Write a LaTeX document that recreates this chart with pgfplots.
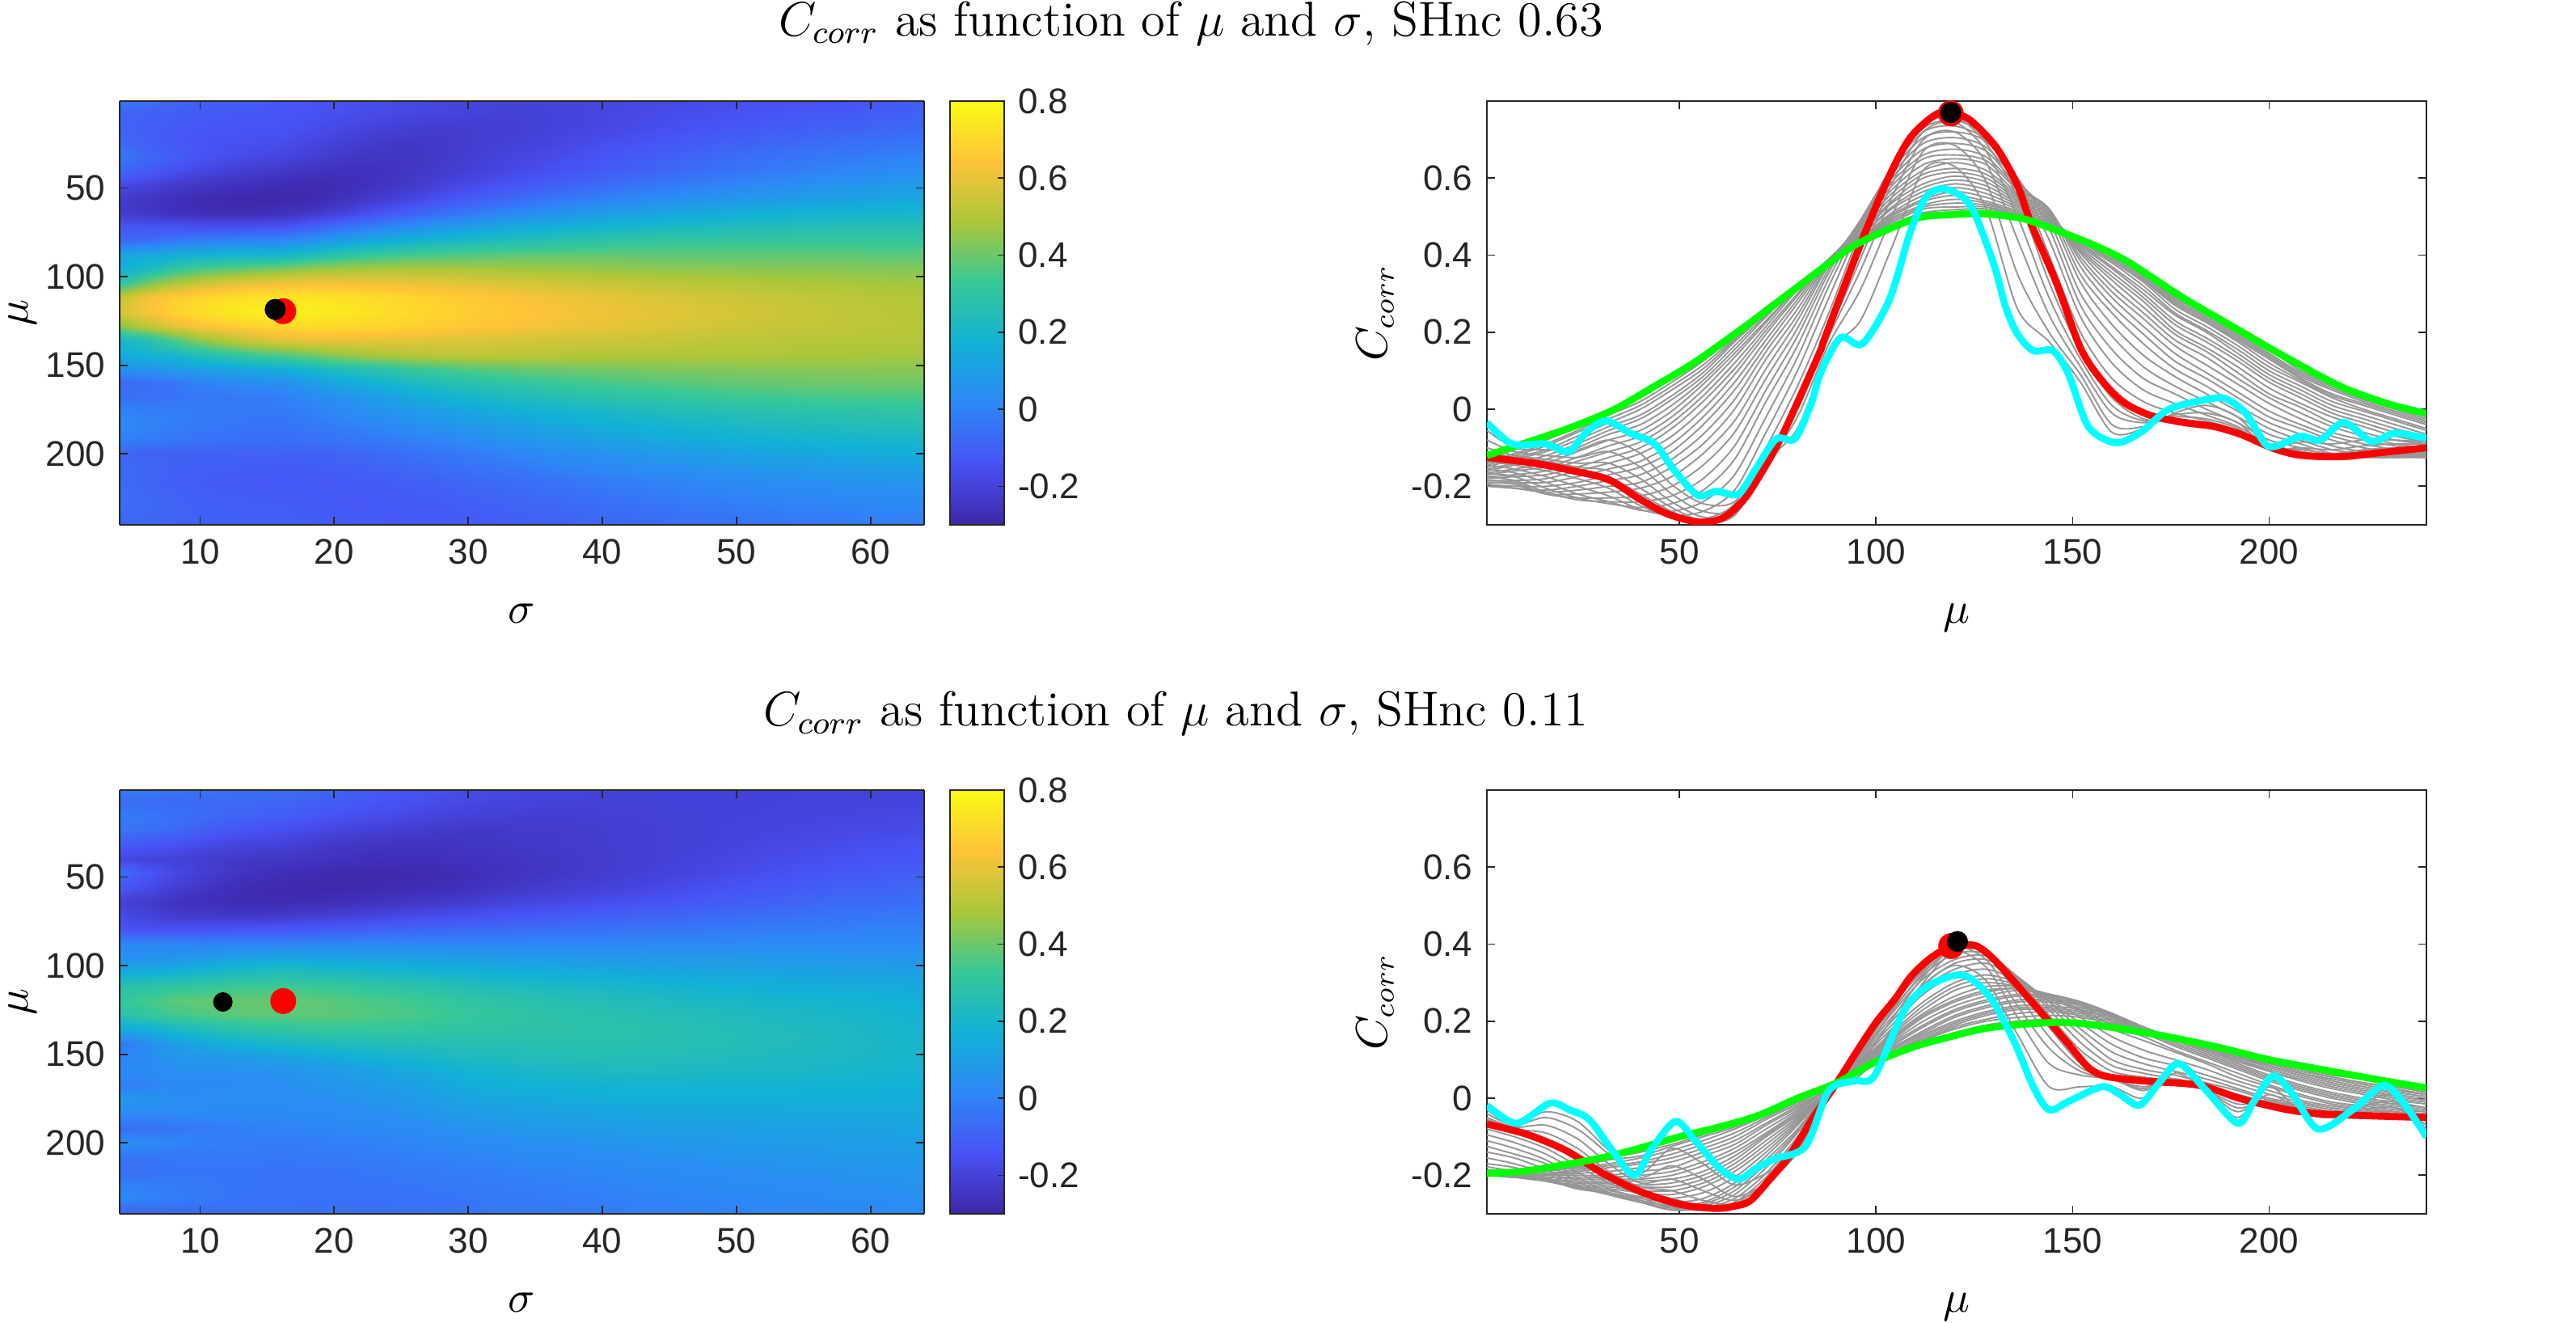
\documentclass[border=0pt]{standalone}
\usepackage{fontspec}
\usepackage{pgfplots}
\usepackage{pgfplotstable}
\pgfplotsset{compat=1.18}
\newfontfamily\arialish{Liberation Sans}

% C_corr, rows mu, columns sigma (header = sigma)
\pgfplotstableread{
mu 4 6 8 10 12 14 16 18 20 22 24 26 28 30 32 34 36 38 40 42 44 46 48 50 52 54 56 58 60 62 64
1 -.034 -.055 -.08 -.10 -.11 -.12 -.125 -.135 -.145 -.155 -.165 -.175 -.185 -.19 -.195 -.20 -.195 -.19 -.185 -.18 -.175 -.17 -.165 -.16 -.155 -.15 -.145 -.14 -.135 -.128 -.12
8 -.09 -.10 -.11 -.12 -.125 -.13 -.135 -.145 -.155 -.165 -.175 -.185 -.19 -.195 -.205 -.205 -.20 -.19 -.185 -.175 -.17 -.16 -.155 -.145 -.14 -.13 -.125 -.12 -.115 -.105 -.10
16 -.09 -.105 -.12 -.13 -.135 -.14 -.145 -.16 -.175 -.19 -.205 -.215 -.22 -.22 -.215 -.21 -.20 -.19 -.18 -.17 -.16 -.15 -.14 -.13 -.12 -.11 -.105 -.095 -.09 -.08 -.075
24 -.08 -.105 -.125 -.14 -.15 -.155 -.16 -.18 -.20 -.22 -.23 -.235 -.23 -.22 -.21 -.20 -.19 -.175 -.16 -.15 -.135 -.125 -.11 -.10 -.09 -.08 -.07 -.06 -.055 -.045 -.04
32 -.03 -.08 -.11 -.14 -.16 -.175 -.185 -.205 -.225 -.24 -.245 -.24 -.23 -.215 -.20 -.185 -.17 -.155 -.14 -.125 -.11 -.095 -.08 -.065 -.055 -.045 -.035 -.025 -.015 -.005 0
40 -.075 -.115 -.15 -.18 -.205 -.22 -.234 -.25 -.26 -.262 -.255 -.24 -.225 -.205 -.19 -.17 -.15 -.135 -.115 -.10 -.085 -.07 -.055 -.04 -.025 -.015 0 .01 .02 .03 .04
48 -.165 -.195 -.22 -.24 -.255 -.265 -.275 -.28 -.275 -.265 -.245 -.225 -.20 -.175 -.15 -.13 -.11 -.09 -.07 -.05 -.035 -.02 -.005 .01 .025 .035 .05 .06 .07 .08 .09
56 -.225 -.245 -.265 -.28 -.29 -.295 -.293 -.285 -.265 -.24 -.21 -.18 -.145 -.115 -.09 -.065 -.04 -.02 0 .02 .035 .05 .065 .075 .085 .095 .105 .115 .125 .13 .14
64 -.22 -.24 -.26 -.27 -.275 -.275 -.262 -.245 -.21 -.17 -.13 -.095 -.06 -.03 0 .025 .05 .07 .09 .105 .12 .135 .145 .155 .165 .175 .18 .185 .19 .195 .195
72 -.13 -.135 -.14 -.145 -.145 -.145 -.14 -.10 -.06 -.02 .02 .05 .08 .105 .13 .15 .165 .18 .195 .205 .215 .225 .23 .24 .245 .25 .255 .26 .26 .265 .265
80 -.07 -.05 -.02 0 .01 .02 .025 .06 .10 .135 .165 .19 .21 .23 .245 .26 .275 .285 .295 .30 .31 .315 .315 .32 .32 .32 .32 .32 .32 .32 .32
88 .13 .15 .17 .19 .20 .205 .21 .25 .29 .32 .34 .355 .365 .375 .38 .385 .385 .39 .39 .39 .39 .39 .385 .385 .385 .385 .385 .385 .38 .38 .38
96 .175 .23 .31 .36 .39 .41 .43 .46 .475 .485 .49 .49 .49 .485 .48 .475 .47 .465 .46 .455 .45 .45 .445 .445 .44 .44 .44 .44 .435 .435 .435
104 .31 .42 .50 .55 .585 .61 .62 .63 .63 .625 .62 .61 .60 .59 .58 .57 .56 .55 .54 .535 .525 .52 .51 .505 .50 .495 .49 .485 .48 .475 .47
112 .53 .62 .67 .70 .72 .735 .74 .74 .73 .72 .705 .69 .675 .66 .65 .635 .62 .61 .60 .585 .575 .565 .555 .545 .54 .53 .525 .52 .51 .505 .50
120 .56 .63 .685 .72 .745 .76 .77 .765 .75 .735 .72 .705 .69 .675 .66 .65 .64 .625 .615 .605 .595 .585 .575 .565 .555 .545 .535 .525 .518 .51 .505
128 .44 .52 .59 .64 .67 .69 .70 .71 .71 .70 .695 .68 .67 .655 .645 .635 .62 .61 .60 .59 .58 .57 .56 .55 .54 .535 .53 .525 .52 .515 .51
136 .195 .26 .35 .44 .50 .55 .58 .60 .60 .60 .595 .59 .58 .575 .57 .56 .555 .55 .545 .54 .535 .53 .525 .52 .515 .51 .51 .505 .505 .50 .50
144 .152 .175 .20 .245 .29 .33 .36 .40 .44 .47 .49 .505 .515 .52 .52 .515 .51 .505 .505 .50 .50 .495 .495 .49 .49 .485 .485 .48 .48 .475 .475
152 .05 .07 .09 .11 .13 .15 .16 .20 .24 .27 .30 .33 .35 .37 .385 .395 .405 .41 .415 .42 .425 .43 .43 .435 .435 .44 .44 .44 .44 .44 .44
160 -.08 -.06 -.04 -.01 .01 .03 .04 .08 .12 .155 .19 .22 .25 .27 .29 .305 .32 .335 .345 .355 .365 .37 .38 .385 .39 .395 .40 .40 .405 .405 .405
168 -.055 -.05 -.045 -.035 -.03 -.025 -.012 .02 .05 .08 .11 .14 .17 .195 .215 .235 .25 .265 .28 .29 .30 .31 .32 .33 .335 .34 .345 .35 .35 .352 .353
176 .005 -.01 -.015 -.02 -.025 -.03 -.03 -.01 .015 .04 .06 .085 .105 .125 .145 .165 .18 .195 .205 .22 .23 .245 .25 .26 .27 .275 .28 .285 .29 .295 .30
184 .027 .01 -.01 -.025 -.035 -.04 -.044 -.03 -.015 0 .02 .04 .06 .08 .095 .115 .135 .15 .16 .175 .185 .20 .205 .215 .225 .23 .235 .24 .245 .25 .255
192 -.01 -.02 -.035 -.05 -.055 -.06 -.063 -.055 -.045 -.035 -.02 -.005 .01 .03 .045 .065 .08 .095 .11 .125 .135 .145 .155 .165 .175 .18 .185 .19 .195 .20 .205
200 -.09 -.095 -.10 -.10 -.10 -.10 -.097 -.095 -.09 -.08 -.065 -.05 -.035 -.02 -.005 .015 .03 .04 .055 .07 .08 .09 .10 .11 .12 .13 .135 .14 .145 .155 .16
208 -.07 -.085 -.10 -.105 -.11 -.115 -.12 -.115 -.11 -.10 -.09 -.08 -.065 -.05 -.04 -.025 -.01 .005 .015 .03 .04 .05 .06 .07 .075 .08 .085 .09 .095 .10 .105
216 -.075 -.09 -.105 -.115 -.12 -.125 -.125 -.125 -.125 -.12 -.115 -.105 -.095 -.08 -.07 -.06 -.045 -.035 -.02 -.01 0 .01 .02 .03 .035 .04 .05 .055 .06 .065 .07
224 -.06 -.08 -.095 -.105 -.11 -.115 -.118 -.122 -.125 -.125 -.12 -.115 -.11 -.10 -.09 -.08 -.07 -.06 -.045 -.035 -.025 -.015 -.005 0 .01 .015 .02 .025 .03 .035 .04
232 -.065 -.08 -.09 -.10 -.105 -.11 -.11 -.118 -.122 -.125 -.125 -.122 -.118 -.112 -.105 -.095 -.09 -.08 -.07 -.06 -.05 -.04 -.03 -.025 -.015 -.01 -.005 0 .005 .01 .012
240 -.076 -.085 -.09 -.095 -.10 -.10 -.10 -.11 -.115 -.12 -.125 -.125 -.125 -.12 -.115 -.105 -.10 -.09 -.085 -.08 -.07 -.065 -.055 -.05 -.04 -.035 -.03 -.025 -.02 -.015 -.011
}\tabA

\pgfplotstableread{
mu 4 6 8 10 12 14 16 18 20 22 24 26 28 30 32 34 36 38 40 42 44 46 48 50 52 54 56 58 60 62 64
1 -.018 -.03 -.04 -.05 -.055 -.06 -.067 -.08 -.095 -.11 -.125 -.14 -.155 -.17 -.178 -.185 -.19 -.195 -.197 -.20 -.20 -.20 -.20 -.20 -.20 -.20 -.198 -.197 -.196 -.195 -.195
8 -.065 -.07 -.07 -.075 -.08 -.08 -.085 -.10 -.115 -.13 -.145 -.155 -.17 -.18 -.19 -.195 -.20 -.205 -.205 -.205 -.205 -.20 -.20 -.20 -.20 -.197 -.195 -.194 -.193 -.19 -.19
16 -.015 -.035 -.05 -.07 -.09 -.105 -.115 -.13 -.145 -.16 -.17 -.185 -.195 -.205 -.21 -.215 -.215 -.215 -.21 -.21 -.205 -.205 -.20 -.20 -.197 -.195 -.19 -.187 -.185 -.182 -.18
24 -.04 -.06 -.08 -.105 -.13 -.145 -.155 -.175 -.19 -.205 -.215 -.225 -.23 -.235 -.235 -.23 -.23 -.225 -.22 -.215 -.21 -.205 -.20 -.195 -.19 -.185 -.18 -.177 -.173 -.17 -.165
32 -.125 -.135 -.145 -.17 -.19 -.20 -.205 -.22 -.235 -.245 -.25 -.25 -.25 -.245 -.24 -.235 -.23 -.225 -.22 -.215 -.21 -.205 -.20 -.19 -.18 -.175 -.17 -.16 -.155 -.15 -.145
40 -.185 -.195 -.205 -.22 -.23 -.24 -.242 -.25 -.258 -.265 -.27 -.27 -.265 -.26 -.255 -.245 -.24 -.23 -.225 -.215 -.21 -.20 -.19 -.18 -.17 -.165 -.155 -.15 -.14 -.135 -.13
48 -.065 -.13 -.175 -.21 -.24 -.26 -.27 -.28 -.285 -.29 -.29 -.285 -.28 -.27 -.26 -.25 -.24 -.23 -.22 -.21 -.20 -.19 -.18 -.165 -.155 -.145 -.135 -.125 -.12 -.11 -.105
56 -.13 -.17 -.21 -.24 -.265 -.28 -.285 -.29 -.29 -.285 -.28 -.275 -.27 -.26 -.245 -.23 -.22 -.21 -.20 -.19 -.175 -.165 -.15 -.14 -.13 -.12 -.11 -.10 -.095 -.09 -.085
64 -.205 -.225 -.255 -.265 -.275 -.28 -.28 -.275 -.27 -.26 -.25 -.24 -.23 -.22 -.205 -.19 -.18 -.17 -.16 -.15 -.14 -.13 -.12 -.11 -.10 -.09 -.08 -.075 -.07 -.065 -.06
72 -.17 -.195 -.22 -.225 -.23 -.23 -.225 -.215 -.205 -.195 -.18 -.17 -.16 -.15 -.14 -.13 -.12 -.11 -.10 -.095 -.09 -.08 -.07 -.065 -.055 -.05 -.045 -.04 -.035 -.03 -.03
80 -.135 -.14 -.14 -.135 -.13 -.125 -.12 -.115 -.105 -.10 -.09 -.085 -.08 -.07 -.065 -.06 -.055 -.05 -.045 -.04 -.035 -.03 -.025 -.02 -.015 -.01 -.01 -.005 0 0 0
88 .02 .02 .02 .015 .015 .01 .01 .015 .015 .02 .02 .02 .02 .02 .02 .02 .02 .02 .02 .02 .025 .025 .025 .025 .03 .03 .03 .03 .03 .03 .03
96 .05 .06 .07 .09 .11 .125 .135 .13 .125 .12 .115 .11 .105 .10 .095 .09 .09 .09 .085 .085 .08 .08 .08 .08 .075 .075 .075 .07 .07 .07 .07
104 .15 .165 .18 .205 .225 .24 .25 .24 .23 .22 .21 .20 .19 .18 .17 .165 .16 .155 .15 .145 .14 .135 .13 .13 .125 .12 .12 .115 .115 .11 .11
112 .28 .29 .30 .315 .325 .335 .34 .33 .32 .31 .295 .285 .27 .25 .24 .23 .22 .215 .21 .20 .19 .185 .175 .17 .165 .16 .155 .15 .15 .145 .14
120 .315 .345 .38 .39 .395 .395 .393 .385 .375 .36 .35 .335 .32 .30 .29 .28 .265 .255 .25 .24 .23 .225 .215 .21 .20 .195 .19 .185 .18 .17 .165
128 .27 .305 .34 .36 .375 .38 .38 .38 .375 .37 .36 .35 .335 .32 .31 .30 .29 .28 .275 .265 .255 .25 .24 .235 .225 .22 .215 .205 .20 .19 .18
136 .135 .165 .21 .24 .27 .29 .30 .31 .315 .315 .315 .31 .305 .30 .295 .29 .29 .285 .285 .28 .27 .265 .255 .25 .24 .235 .23 .22 .21 .20 .19
144 -.03 .03 .09 .13 .16 .185 .20 .215 .23 .24 .25 .25 .255 .26 .265 .265 .27 .27 .27 .27 .265 .26 .255 .25 .24 .235 .23 .225 .215 .205 .197
152 .005 .03 .06 .07 .08 .09 .105 .125 .145 .165 .18 .195 .21 .225 .23 .24 .245 .25 .25 .25 .25 .245 .24 .235 .23 .225 .22 .215 .21 .20 .195
160 .02 .03 .05 .05 .05 .05 .053 .07 .085 .10 .12 .14 .16 .18 .19 .20 .21 .215 .22 .22 .22 .22 .215 .215 .21 .21 .205 .20 .195 .19 .185
168 -.015 0 .02 .025 .03 .04 .045 .055 .065 .075 .09 .105 .125 .15 .16 .17 .175 .18 .18 .185 .185 .185 .18 .18 .18 .18 .175 .175 .175 .17 .17
176 .08 .065 .05 .05 .045 .04 .04 .045 .05 .06 .07 .085 .10 .12 .125 .135 .14 .145 .15 .155 .155 .155 .155 .155 .155 .155 .155 .155 .155 .155 .155
184 .02 .02 .02 .02 .02 .025 .025 .03 .035 .04 .05 .06 .075 .09 .095 .105 .11 .115 .12 .125 .125 .125 .13 .13 .13 .135 .135 .135 .135 .14 .14
192 -.065 -.05 -.035 -.025 -.015 -.005 0 .005 .01 .02 .025 .035 .045 .055 .065 .075 .08 .085 .09 .095 .10 .10 .105 .105 .11 .11 .11 .115 .115 .12 .12
200 .05 .03 .01 -.005 -.01 -.015 -.02 -.015 -.01 -.005 0 .01 .02 .03 .035 .045 .05 .055 .06 .07 .07 .075 .08 .085 .085 .09 .09 .095 .095 .10 .10
208 -.04 -.035 -.03 -.03 -.03 -.03 -.033 -.03 -.025 -.02 -.015 -.01 -.005 .005 .01 .02 .025 .03 .035 .045 .05 .055 .06 .065 .065 .07 .075 .08 .08 .085 .085
216 -.06 -.05 -.04 -.04 -.04 -.04 -.042 -.04 -.04 -.035 -.03 -.025 -.02 -.015 -.01 0 .005 .01 .015 .025 .03 .035 .04 .045 .05 .055 .055 .06 .065 .065 .07
224 0 -.01 -.02 -.03 -.035 -.04 -.045 -.045 -.045 -.04 -.04 -.035 -.03 -.025 -.02 -.015 -.01 -.005 0 .01 .015 .02 .025 .03 .035 .04 .04 .05 .05 .055 .055
232 .02 .005 -.01 -.025 -.035 -.045 -.048 -.05 -.05 -.05 -.05 -.045 -.04 -.035 -.03 -.025 -.02 -.015 -.01 -.005 0 .005 .01 .015 .02 .025 .03 .035 .035 .04 .04
240 -.10 -.09 -.08 -.07 -.06 -.055 -.05 -.055 -.055 -.055 -.055 -.055 -.05 -.04 -.035 -.035 -.03 -.025 -.025 -.015 -.01 -.005 0 .005 .01 .01 .015 .02 .02 .025 .027
}\tabB

% walk a wide table and collect (sigma,mu,value) for the surf
\newcommand{\collect}[2]{%
  \pgfplotstablegetrowsof{#1}\let\nrows\pgfplotsretval
  \pgfplotstablegetcolsof{#1}\let\ncols\pgfplotsretval
  \gdef#2{}%
  \pgfmathtruncatemacro\lastrow{\nrows-1}%
  \pgfmathtruncatemacro\lastcol{\ncols-1}%
  \foreach \r in {0,...,\lastrow}{%
    \pgfplotstablegetelem{\r}{[index]0}\of{#1}\let\mval\pgfplotsretval
    \foreach \c in {1,...,\lastcol}{%
      \pgfplotstablegetcolumnnamebyindex{\c}\of{#1}\to\sval
      \pgfplotstablegetelem{\r}{[index]\c}\of{#1}%
      \xdef#2{#2 (\sval,\mval,\pgfplotsretval)}%
    }%
  }%
}
\collect{\tabA}{\surfA}
\collect{\tabB}{\surfB}

\definecolor{curvegray}{RGB}{150,150,150}
\definecolor{axcol}{RGB}{38,38,38}

\pgfplotsset{
  colormap={parula}{rgb=(.2422,.1504,.6603) rgb=(.2810,.3228,.9579) rgb=(.1786,.5289,.9682) rgb=(.0689,.6948,.8394) rgb=(.2161,.7843,.5923) rgb=(.6720,.7793,.2227) rgb=(.9970,.7659,.2199) rgb=(.9769,.9839,.0805)},
  base/.style={
    scale only axis, anchor=south west,
    axis line style={axcol,line width=.4pt},
    tick style={axcol,line width=.35pt},
    tick align=inside, major tick length=2pt,
    tick label style={font=\arialish\fontsize{8.8}{10}\selectfont,text=axcol},
    /pgf/number format/assume math mode=true,
    label style={font=\fontsize{10.5}{12}\selectfont},
  },
  heat/.style={
    base, width=199pt, height=104.8pt,
    view={0}{90}, xmin=4, xmax=64, ymin=1, ymax=240, y dir=reverse,
    xtick={10,20,...,60}, ytick={50,100,150,200},
    point meta min=-.3, point meta max=.8,
    colormap name=parula, colorbar,
    colorbar style={
      at={(parent axis.north east)}, anchor=north west, xshift=-2.2pt,
      width=13.4pt, scale only axis,
      ytick={-.2,0,.2,.4,.6,.8},
      tick align=inside, major tick length=1.6pt,
      yticklabel pos=right, ytick pos=right,
      /pgf/number format/fixed,
      tick label style={font=\arialish\fontsize{8.8}{10}\selectfont,text=axcol},
      /pgf/number format/assume math mode=true,
      axis line style={axcol,line width=.4pt},
    },
    xlabel={$\sigma$}, ylabel={$\mu$},
    xlabel style={yshift=-3pt}, ylabel style={yshift=-4.5pt},
    set layers=none,
  },
  curves/.style={
    base, width=232.4pt, height=104.8pt,
    xmin=1, xmax=240, ymin=-.3, ymax=.8,
    xtick={50,100,150,200}, ytick={-.2,0,.2,.4,.6},
    /pgf/number format/fixed,
    xlabel={$\mu$}, ylabel={$C_{corr}$},
    xlabel style={yshift=-3pt}, ylabel style={yshift=-2.5pt},
  },
  gray line/.style={curvegray,line width=.38pt,smooth,tension=.5},
  fat/.style={line width=1.75pt,smooth,tension=.5},
  dotr/.style={only marks,mark=*,mark size=3pt,mark options={fill=red,draw=red}},
  dotk/.style={only marks,mark=*,mark size=2.4pt,mark options={fill=black,draw=black}},
}

\newcommand{\grays}[1]{%
  \pgfplotsinvokeforeach{6,8,10,12,14,18,20,22,24,26,28,30,32,34,36,38,40,42,44,46,48,50,52,54,56,58,60,62}{%
    \addplot[gray line] table[x=mu,y=##1]{#1};
  }%
}

\begin{document}
\begin{tikzpicture}
\path[use as bounding box] (0,0) rectangle (637.2pt,327pt);

\node[font=\fontsize{12.1}{13}\selectfont,anchor=base] at (294.6pt,318pt)
  {$C_{corr}$ as function of $\mu$ and $\sigma$, SHnc 0.63};
\node[font=\fontsize{12.1}{13}\selectfont,anchor=base] at (290.9pt,147.4pt)
  {$C_{corr}$ as function of $\mu$ and $\sigma$, SHnc 0.11};

% top left
\begin{axis}[heat, at={(29.6pt,197.2pt)}]
\edef\doplot{\noexpand\addplot3[surf,shader=interp,mesh/ordering=x varies,mesh/cols=31,mesh/rows=31] coordinates {\surfA};}
\doplot
\addplot3[dotr] coordinates {(16.2,119.5,1)};
\addplot3[dotk] coordinates {(15.6,118.5,1)};
\end{axis}

% top right
\begin{axis}[curves, at={(367.8pt,197.2pt)}]
\grays{\tabA}
\addplot[red,fat] coordinates {(1,-.125) (13,-.14) (23,-.16) (32,-.183) (40,-.234) (47,-.272) (55,-.293) (61,-.282) (66.4,-.234) (71.7,-.15) (76.6,-.058) (85.5,.144) (87,.186) (96.4,.438) (103.4,.606) (108.7,.705) (115,.764) (119,.77) (124,.75) (130.7,.678) (136,.58) (139.5,.48) (146,.325) (152,.159) (157.4,.075) (163,.018) (169.8,-.016) (178,-.034) (186,-.045) (193,-.066) (200.6,-.10) (207,-.118) (214,-.123) (220,-.122) (227,-.114) (240,-.10)};
\addplot[color={rgb,1:red,0;green,1;blue,0},fat] coordinates {(1,-.12) (13,-.08) (23,-.045) (33.5,0) (43.7,.06) (54,.123) (67.6,.222) (87.5,.375) (95.7,.432) (110,.495) (119,.505) (126,.508) (132,.503) (139,.49) (154,.432) (164,.383) (178,.29) (192,.207) (203,.142) (218,.06) (230,.015) (240,-.011)};
\addplot[color={rgb,1:red,0;green,1;blue,1},fat] coordinates {(1,-.034) (7.4,-.09) (16,-.09) (21.7,-.11) (26.5,-.058) (31.4,-.03) (37.5,-.062) (43.7,-.09) (48.5,-.156) (54.6,-.223) (59.4,-.213) (65,-.22) (69.7,-.15) (74.6,-.077) (79.3,-.077) (83.4,.012) (86,.097) (91,.186) (96.5,.17) (103.4,.285) (108.7,.46) (112.8,.552) (117,.572) (121.9,.552) (125,.51) (130,.375) (133,.264) (136,.195) (140,.152) (145,.152) (149,.09) (154,-.045) (161,-.087) (167.6,-.058) (174.5,0) (185,.027) (189,.027) (194,-.01) (199,-.09) (202,-.095) (208,-.07) (213,-.08) (219,-.034) (226,-.083) (232,-.062) (240,-.076)};
\addplot[dotr] coordinates {(119,.768)};
\addplot[dotk] coordinates {(119,.77)};
\end{axis}

% bottom left
\begin{axis}[heat, at={(29.6pt,26.8pt)}]
\edef\doplot{\noexpand\addplot3[surf,shader=interp,mesh/ordering=x varies,mesh/cols=31,mesh/rows=31] coordinates {\surfB};}
\doplot
\addplot3[dotr] coordinates {(16.2,120,1)};
\addplot3[dotk,mark size=2.2pt] coordinates {(11.7,120.5,1)};
\end{axis}

% bottom right
\begin{axis}[curves, at={(367.8pt,26.8pt)}]
\grays{\tabB}
\addplot[red,fat] coordinates {(1,-.067) (11,-.093) (21,-.135) (30.5,-.195) (40,-.242) (50,-.275) (59,-.286) (64,-.28) (68,-.266) (73,-.21) (78,-.149) (84,-.05) (90,.04) (95,.12) (100,.197) (105,.26) (109,.318) (114,.365) (119,.393) (125,.397) (129,.37) (133,.327) (141,.234) (149,.14) (154,.08) (158.5,.057) (168,.045) (182,.034) (192,.001) (199,-.017) (206,-.032) (214,-.041) (227,-.046) (240,-.05)};
\addplot[color={rgb,1:red,0;green,1;blue,0},fat] coordinates {(1,-.195) (10,-.19) (21,-.172) (30,-.155) (38,-.135) (50,-.10) (60,-.075) (70,-.045) (80,0) (90,.04) (100,.095) (110,.135) (119,.16) (127,.18) (135,.19) (147,.197) (158,.187) (174,.16) (188,.13) (200,.10) (218,.066) (230,.044) (240,.027)};
\addplot[color={rgb,1:red,0;green,1;blue,1},fat] coordinates {(1,-.018) (8.5,-.065) (17,-.013) (22,-.03) (27,-.055) (32.5,-.13) (38.5,-.20) (43,-.13) (49,-.06) (54,-.11) (60,-.18) (65,-.21) (69,-.185) (74,-.158) (82,-.125) (88,.02) (94.5,.045) (99.5,.057) (107,.225) (113,.29) (122,.32) (129,.262) (135,.15) (140,.03) (144,-.03) (149,-.008) (157.5,.03) (162,.01) (167,-.018) (172,.04) (177,.09) (184,.02) (192,-.065) (196,-.01) (201,.058) (206,.01) (212.5,-.08) (221.5,-.028) (229,.033) (234,-.01) (240,-.10)};
\addplot[dotr] coordinates {(119.1,.395)};
\addplot[dotk] coordinates {(120.7,.407)};
\end{axis}
\end{tikzpicture}
\end{document}
